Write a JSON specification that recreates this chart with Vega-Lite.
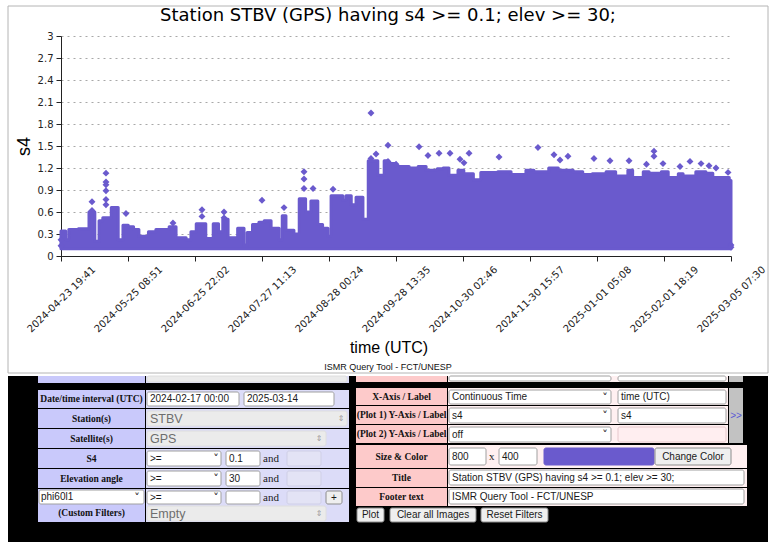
{
  "$schema": "https://vega.github.io/schema/vega-lite/v6.json",
  "background": "white",
  "padding": {"left": 7, "top": 5, "right": 0, "bottom": 0},
  "bounds": "flush",
  "spacing": 120,
  "config": {"view": {"stroke": null}, "font": "DejaVu Sans"},
  "datasets": {
    "band": [
      {"time": "2024-04-23T19:41Z", "s4": 0.34},
      {"time": "2024-04-26", "s4": 0.22},
      {"time": "2024-04-27T12:00Z", "s4": 0.36},
      {"time": "2024-05-02", "s4": 0.37},
      {"time": "2024-05-07", "s4": 0.6},
      {"time": "2024-05-09T18:00Z", "s4": 0.2},
      {"time": "2024-05-11T18:00Z", "s4": 0.48},
      {"time": "2024-05-13T12:00Z", "s4": 0.52},
      {"time": "2024-05-17T12:00Z", "s4": 0.66},
      {"time": "2024-05-20T18:00Z", "s4": 0.22},
      {"time": "2024-05-23", "s4": 0.42},
      {"time": "2024-05-25T12:00Z", "s4": 0.4},
      {"time": "2024-05-28", "s4": 0.36},
      {"time": "2024-05-30T12:00Z", "s4": 0.27},
      {"time": "2024-06-04", "s4": 0.33},
      {"time": "2024-06-07T12:00Z", "s4": 0.36},
      {"time": "2024-06-13T18:00Z", "s4": 0.4},
      {"time": "2024-06-17", "s4": 0.25},
      {"time": "2024-06-21T18:00Z", "s4": 0.22},
      {"time": "2024-06-24", "s4": 0.33},
      {"time": "2024-06-26T12:00Z", "s4": 0.44},
      {"time": "2024-07-01", "s4": 0.24},
      {"time": "2024-07-04T12:00Z", "s4": 0.44},
      {"time": "2024-07-07", "s4": 0.33},
      {"time": "2024-07-09", "s4": 0.5},
      {"time": "2024-07-11T12:00Z", "s4": 0.25},
      {"time": "2024-07-16", "s4": 0.38},
      {"time": "2024-07-19", "s4": 0.15},
      {"time": "2024-07-20T12:00Z", "s4": 0.32},
      {"time": "2024-07-23", "s4": 0.43},
      {"time": "2024-07-26", "s4": 0.46},
      {"time": "2024-07-28T12:00Z", "s4": 0.48},
      {"time": "2024-07-31T18:00Z", "s4": 0.38},
      {"time": "2024-08-04T12:00Z", "s4": 0.22},
      {"time": "2024-08-06", "s4": 0.55},
      {"time": "2024-08-07T18:00Z", "s4": 0.35},
      {"time": "2024-08-11T12:00Z", "s4": 0.3},
      {"time": "2024-08-14", "s4": 0.78},
      {"time": "2024-08-17", "s4": 0.6},
      {"time": "2024-08-19T12:00Z", "s4": 0.75},
      {"time": "2024-08-22T18:00Z", "s4": 0.43},
      {"time": "2024-08-25", "s4": 0.38},
      {"time": "2024-08-27T12:00Z", "s4": 0.27},
      {"time": "2024-08-29", "s4": 0.82},
      {"time": "2024-09-03T12:00Z", "s4": 0.76},
      {"time": "2024-09-05", "s4": 0.82},
      {"time": "2024-09-07T12:00Z", "s4": 0.7},
      {"time": "2024-09-09T18:00Z", "s4": 0.8},
      {"time": "2024-09-13", "s4": 0.5},
      {"time": "2024-09-15T12:00Z", "s4": 1.3},
      {"time": "2024-09-20", "s4": 1.1},
      {"time": "2024-09-23", "s4": 1.3},
      {"time": "2024-09-25", "s4": 1.26},
      {"time": "2024-09-28T12:00Z", "s4": 1.22},
      {"time": "2024-10-04T18:00Z", "s4": 1.2},
      {"time": "2024-10-09", "s4": 1.22},
      {"time": "2024-10-12T18:00Z", "s4": 1.17},
      {"time": "2024-10-18", "s4": 1.19},
      {"time": "2024-10-20T18:00Z", "s4": 1.2},
      {"time": "2024-10-23T12:00Z", "s4": 1.1},
      {"time": "2024-10-27T18:00Z", "s4": 1.17},
      {"time": "2024-10-30T12:00Z", "s4": 1.12},
      {"time": "2024-11-04", "s4": 1.04},
      {"time": "2024-11-07T12:00Z", "s4": 1.14},
      {"time": "2024-11-15T12:00Z", "s4": 1.15},
      {"time": "2024-11-21T18:00Z", "s4": 1.11},
      {"time": "2024-11-28T18:00Z", "s4": 1.17},
      {"time": "2024-12-02T12:00Z", "s4": 1.15},
      {"time": "2024-12-09T12:00Z", "s4": 1.2},
      {"time": "2024-12-14", "s4": 1.17},
      {"time": "2024-12-21", "s4": 1.15},
      {"time": "2024-12-25T12:00Z", "s4": 1.11},
      {"time": "2024-12-30", "s4": 1.12},
      {"time": "2025-01-05T12:00Z", "s4": 1.15},
      {"time": "2025-01-10", "s4": 1.09},
      {"time": "2025-01-15T18:00Z", "s4": 1.17},
      {"time": "2025-01-18", "s4": 1.07},
      {"time": "2025-01-23", "s4": 1.15},
      {"time": "2025-01-25T18:00Z", "s4": 1.13},
      {"time": "2025-01-31T12:00Z", "s4": 1.15},
      {"time": "2025-02-03T18:00Z", "s4": 1.07},
      {"time": "2025-02-08T12:00Z", "s4": 1.12},
      {"time": "2025-02-10T18:00Z", "s4": 1.09},
      {"time": "2025-02-16T18:00Z", "s4": 1.15},
      {"time": "2025-02-21T12:00Z", "s4": 1.13},
      {"time": "2025-02-24T18:00Z", "s4": 1.07},
      {"time": "2025-03-04T12:00Z", "s4": 1.03},
      {"time": "2025-03-05T07:30Z", "s4": 1.03}
    ],
    "peaks": [
      {"time": "2024-04-23T19:41Z", "s4": 0.22},
      {"time": "2024-04-23T19:41Z", "s4": 0.14},
      {"time": "2024-05-08T10:00Z", "s4": 0.74},
      {"time": "2024-05-08T10:00Z", "s4": 0.62},
      {"time": "2024-05-15", "s4": 1.13},
      {"time": "2024-05-15", "s4": 1.01},
      {"time": "2024-05-15", "s4": 0.97},
      {"time": "2024-05-15", "s4": 0.89},
      {"time": "2024-05-15", "s4": 0.77},
      {"time": "2024-05-15", "s4": 0.7},
      {"time": "2024-05-24T10:00Z", "s4": 0.58},
      {"time": "2024-06-15T13:00Z", "s4": 0.45},
      {"time": "2024-06-29T05:00Z", "s4": 0.63},
      {"time": "2024-06-29T05:00Z", "s4": 0.54},
      {"time": "2024-07-09T14:00Z", "s4": 0.6},
      {"time": "2024-07-09T14:00Z", "s4": 0.52},
      {"time": "2024-07-27T11:00Z", "s4": 0.76},
      {"time": "2024-08-06T20:00Z", "s4": 0.66},
      {"time": "2024-08-16T06:00Z", "s4": 1.15},
      {"time": "2024-08-16T06:00Z", "s4": 1.05},
      {"time": "2024-08-16T06:00Z", "s4": 0.92},
      {"time": "2024-08-20T12:00Z", "s4": 0.92},
      {"time": "2024-08-29T22:00Z", "s4": 0.91},
      {"time": "2024-09-16T19:00Z", "s4": 1.95},
      {"time": "2024-09-16T19:00Z", "s4": 1.33},
      {"time": "2024-09-19T04:00Z", "s4": 1.39},
      {"time": "2024-09-24T19:00Z", "s4": 1.51},
      {"time": "2024-09-24T19:00Z", "s4": 1.29},
      {"time": "2024-09-28T14:00Z", "s4": 1.25},
      {"time": "2024-10-09T10:00Z", "s4": 1.49},
      {"time": "2024-10-13T15:00Z", "s4": 1.37},
      {"time": "2024-10-18T20:00Z", "s4": 1.4},
      {"time": "2024-10-24", "s4": 1.4},
      {"time": "2024-10-28T17:00Z", "s4": 1.32},
      {"time": "2024-10-30T14:00Z", "s4": 1.27},
      {"time": "2024-11-01T23:00Z", "s4": 1.4},
      {"time": "2024-11-16T02:00Z", "s4": 1.35},
      {"time": "2024-12-04T10:00Z", "s4": 1.48},
      {"time": "2024-12-11T23:00Z", "s4": 1.38},
      {"time": "2024-12-14T19:00Z", "s4": 1.31},
      {"time": "2024-12-18T13:00Z", "s4": 1.36},
      {"time": "2024-12-30T19:00Z", "s4": 1.33},
      {"time": "2025-01-07T08:00Z", "s4": 1.3},
      {"time": "2025-01-16T07:00Z", "s4": 1.3},
      {"time": "2025-01-24T12:00Z", "s4": 1.25},
      {"time": "2025-01-28T01:00Z", "s4": 1.43},
      {"time": "2025-01-28T01:00Z", "s4": 1.36},
      {"time": "2025-02-01T07:00Z", "s4": 1.26},
      {"time": "2025-02-09T07:00Z", "s4": 1.22},
      {"time": "2025-02-14", "s4": 1.29},
      {"time": "2025-02-19T05:00Z", "s4": 1.26},
      {"time": "2025-02-22T23:00Z", "s4": 1.23},
      {"time": "2025-02-26T06:00Z", "s4": 1.2},
      {"time": "2025-03-03T22:00Z", "s4": 1.14},
      {"time": "2025-03-05T07:30Z", "s4": 0.15},
      {"time": "2025-03-05T07:30Z", "s4": 0.12}
    ],
    "cells": [
      {"kind": "panel", "x0": 7, "x1": 767, "y0": 375, "y1": 541},
      {"kind": "lab", "x0": 37, "x1": 144, "y0": 375, "y1": 382},
      {"kind": "val", "x0": 145, "x1": 348, "y0": 375, "y1": 382},
      {"kind": "lab", "x0": 37, "x1": 144, "y0": 389, "y1": 407},
      {"kind": "val", "x0": 145, "x1": 348, "y0": 389, "y1": 407},
      {"kind": "lab", "x0": 37, "x1": 144, "y0": 408, "y1": 427},
      {"kind": "val", "x0": 145, "x1": 348, "y0": 408, "y1": 427},
      {"kind": "lab", "x0": 37, "x1": 144, "y0": 428, "y1": 447},
      {"kind": "val", "x0": 145, "x1": 348, "y0": 428, "y1": 447},
      {"kind": "lab", "x0": 37, "x1": 144, "y0": 448, "y1": 467},
      {"kind": "val", "x0": 145, "x1": 348, "y0": 448, "y1": 467},
      {"kind": "lab", "x0": 37, "x1": 144, "y0": 468, "y1": 487},
      {"kind": "val", "x0": 145, "x1": 348, "y0": 468, "y1": 487},
      {"kind": "lab", "x0": 37, "x1": 144, "y0": 488, "y1": 521},
      {"kind": "val", "x0": 145, "x1": 348, "y0": 488, "y1": 521},
      {"kind": "plab", "x0": 355, "x1": 446, "y0": 375, "y1": 381},
      {"kind": "pval", "x0": 447, "x1": 727, "y0": 375, "y1": 381},
      {"kind": "side", "x0": 728, "x1": 742, "y0": 375, "y1": 381},
      {"kind": "plab", "x0": 355, "x1": 446, "y0": 387, "y1": 404},
      {"kind": "pval", "x0": 447, "x1": 727, "y0": 387, "y1": 404},
      {"kind": "plab", "x0": 355, "x1": 446, "y0": 405, "y1": 423},
      {"kind": "pval", "x0": 447, "x1": 727, "y0": 405, "y1": 423},
      {"kind": "plab", "x0": 355, "x1": 446, "y0": 424, "y1": 442},
      {"kind": "pval", "x0": 447, "x1": 727, "y0": 424, "y1": 442},
      {"kind": "side", "x0": 728, "x1": 742, "y0": 387, "y1": 442},
      {"kind": "plab", "x0": 355, "x1": 446, "y0": 444, "y1": 467},
      {"kind": "pval", "x0": 447, "x1": 746, "y0": 444, "y1": 467},
      {"kind": "plab", "x0": 355, "x1": 446, "y0": 468, "y1": 486},
      {"kind": "pval", "x0": 447, "x1": 746, "y0": 468, "y1": 486},
      {"kind": "plab", "x0": 355, "x1": 446, "y0": 487, "y1": 505},
      {"kind": "pval", "x0": 447, "x1": 746, "y0": 487, "y1": 505}
    ],
    "widgets": [
      {"kind": "selgray", "x0": 146, "x1": 346, "y0": 375, "y1": 381},
      {"kind": "select", "x0": 448, "x1": 610, "y0": 375, "y1": 380},
      {"kind": "input", "x0": 617, "x1": 725, "y0": 375, "y1": 380},
      {"kind": "input", "x0": 146, "x1": 238, "y0": 391, "y1": 405},
      {"kind": "input", "x0": 243, "x1": 333, "y0": 391, "y1": 405},
      {"kind": "selgray", "x0": 146, "x1": 346, "y0": 410, "y1": 425},
      {"kind": "selgray", "x0": 146, "x1": 325, "y0": 430, "y1": 445},
      {"kind": "select", "x0": 146, "x1": 220, "y0": 450, "y1": 465},
      {"kind": "input", "x0": 225, "x1": 259, "y0": 450, "y1": 465},
      {"kind": "disabled", "x0": 286, "x1": 320, "y0": 450, "y1": 465},
      {"kind": "select", "x0": 146, "x1": 220, "y0": 470, "y1": 485},
      {"kind": "input", "x0": 225, "x1": 259, "y0": 470, "y1": 485},
      {"kind": "disabled", "x0": 286, "x1": 320, "y0": 470, "y1": 485},
      {"kind": "select", "x0": 38, "x1": 143, "y0": 489, "y1": 503},
      {"kind": "select", "x0": 146, "x1": 220, "y0": 490, "y1": 503},
      {"kind": "input", "x0": 225, "x1": 259, "y0": 490, "y1": 503},
      {"kind": "disabled", "x0": 286, "x1": 320, "y0": 490, "y1": 503},
      {"kind": "button", "x0": 325, "x1": 341, "y0": 490, "y1": 503},
      {"kind": "selgray", "x0": 146, "x1": 325, "y0": 505, "y1": 520},
      {"kind": "select", "x0": 448, "x1": 610, "y0": 389, "y1": 403},
      {"kind": "input", "x0": 617, "x1": 725, "y0": 389, "y1": 403},
      {"kind": "select", "x0": 448, "x1": 610, "y0": 407, "y1": 422},
      {"kind": "input", "x0": 617, "x1": 725, "y0": 407, "y1": 422},
      {"kind": "select", "x0": 448, "x1": 610, "y0": 426, "y1": 441},
      {"kind": "pinkin", "x0": 617, "x1": 725, "y0": 426, "y1": 441},
      {"kind": "input", "x0": 448, "x1": 485, "y0": 447, "y1": 464},
      {"kind": "input", "x0": 498, "x1": 536, "y0": 447, "y1": 464},
      {"kind": "swatch", "x0": 543, "x1": 653, "y0": 447, "y1": 464},
      {"kind": "button", "x0": 654, "x1": 730, "y0": 447, "y1": 464},
      {"kind": "input", "x0": 448, "x1": 743, "y0": 469, "y1": 484},
      {"kind": "input", "x0": 448, "x1": 743, "y0": 488, "y1": 503},
      {"kind": "button", "x0": 356, "x1": 383, "y0": 507, "y1": 521},
      {"kind": "button", "x0": 389, "x1": 475, "y0": 507, "y1": 521},
      {"kind": "button", "x0": 480, "x1": 547, "y0": 507, "y1": 521}
    ],
    "texts": [
      {"role": "label", "x": 90.5, "y": 398, "text": "Date/time interval (UTC)"},
      {"role": "label", "x": 90.5, "y": 417.5, "text": "Station(s)"},
      {"role": "label", "x": 90.5, "y": 437.5, "text": "Satellite(s)"},
      {"role": "label", "x": 90.5, "y": 457.5, "text": "S4"},
      {"role": "label", "x": 90.5, "y": 477.5, "text": "Elevation angle"},
      {"role": "label", "x": 90.5, "y": 512, "text": "(Custom Filters)"},
      {"role": "label", "x": 400.5, "y": 395.5, "text": "X-Axis / Label"},
      {"role": "label", "x": 400.5, "y": 414, "text": "(Plot 1) Y-Axis / Label"},
      {"role": "label", "x": 400.5, "y": 433, "text": "(Plot 2) Y-Axis / Label"},
      {"role": "label", "x": 400.5, "y": 455.5, "text": "Size & Color"},
      {"role": "label", "x": 400.5, "y": 477, "text": "Title"},
      {"role": "label", "x": 400.5, "y": 496, "text": "Footer text"},
      {"role": "field", "x": 149, "y": 398, "text": "2024-02-17 00:00"},
      {"role": "field", "x": 246, "y": 398, "text": "2025-03-14"},
      {"role": "field", "x": 149, "y": 457.5, "text": ">="},
      {"role": "field", "x": 228, "y": 457.5, "text": "0.1"},
      {"role": "field", "x": 149, "y": 477.5, "text": ">="},
      {"role": "field", "x": 228, "y": 477.5, "text": "30"},
      {"role": "field", "x": 40, "y": 496, "text": "phi60l1"},
      {"role": "field", "x": 149, "y": 496.5, "text": ">="},
      {"role": "field", "x": 451, "y": 396, "text": "Continuous Time"},
      {"role": "field", "x": 620, "y": 396, "text": "time (UTC)"},
      {"role": "field", "x": 451, "y": 414.5, "text": "s4"},
      {"role": "field", "x": 620, "y": 414.5, "text": "s4"},
      {"role": "field", "x": 451, "y": 433.5, "text": "off"},
      {"role": "field", "x": 451, "y": 455.5, "text": "800"},
      {"role": "field", "x": 501, "y": 455.5, "text": "400"},
      {"role": "field", "x": 451, "y": 476.5, "text": "Station STBV (GPS) having s4 >= 0.1; elev >= 30;"},
      {"role": "field", "x": 451, "y": 495.5, "text": "ISMR Query Tool - FCT/UNESP"},
      {"role": "hint", "x": 149, "y": 417.5, "text": "STBV"},
      {"role": "hint", "x": 149, "y": 437.5, "text": "GPS"},
      {"role": "hint", "x": 149, "y": 512.5, "text": "Empty"},
      {"role": "serif", "x": 262, "y": 457.5, "text": "and"},
      {"role": "serif", "x": 262, "y": 477.5, "text": "and"},
      {"role": "serif", "x": 262, "y": 496.5, "text": "and"},
      {"role": "serif", "x": 488, "y": 455.5, "text": "x"},
      {"role": "button", "x": 333, "y": 496.5, "text": "+"},
      {"role": "button", "x": 692, "y": 455.5, "text": "Change Color"},
      {"role": "button", "x": 369.5, "y": 514, "text": "Plot"},
      {"role": "button", "x": 432, "y": 514, "text": "Clear all Images"},
      {"role": "button", "x": 513.5, "y": 514, "text": "Reset Filters"},
      {"role": "chev", "x": 215, "y": 458, "text": "˅"},
      {"role": "chev", "x": 215, "y": 478, "text": "˅"},
      {"role": "chev", "x": 215, "y": 497, "text": "˅"},
      {"role": "chev", "x": 136, "y": 496.5, "text": "˅"},
      {"role": "chev", "x": 604, "y": 396.5, "text": "˅"},
      {"role": "chev", "x": 604, "y": 415, "text": "˅"},
      {"role": "chev", "x": 604, "y": 434, "text": "˅"},
      {"role": "updown", "x": 340, "y": 417.5, "text": "⇕"},
      {"role": "updown", "x": 318, "y": 437.5, "text": "⇕"},
      {"role": "updown", "x": 318, "y": 512.5, "text": "⇕"},
      {"role": "link", "x": 735, "y": 414.5, "text": ">>"},
      {"role": "footer", "x": 387, "y": 366, "text": "ISMR Query Tool - FCT/UNESP"}
    ]
  },
  "vconcat": [
    {
      "width": 670,
      "height": 220,
      "title": {
        "text": "Station STBV (GPS) having s4 >= 0.1; elev >= 30;",
        "font": "DejaVu Sans",
        "fontSize": 18,
        "fontWeight": "normal",
        "color": "#000000",
        "anchor": "middle",
        "frame": "group",
        "dx": -8,
        "offset": 6
      },
      "layer": [
        {
          "data": {"name": "band"},
          "mark": {"type": "area", "interpolate": "step-after", "color": "#6a5acd", "stroke": "#6a5acd", "strokeWidth": 3, "strokeJoin": "round"},
          "encoding": {
            "x": {
              "field": "time",
              "type": "temporal",
              "title": "time (UTC)",
              "scale": {
                "type": "utc",
                "nice": false,
                "domain": [
                  {"year": 2024, "month": 4, "date": 23, "hours": 19, "minutes": 41, "utc": true},
                  {"year": 2025, "month": 3, "date": 5, "hours": 7, "minutes": 30, "utc": true}
                ]
              },
              "axis": {
                "values": [
                  {"year": 2024, "month": 4, "date": 23, "hours": 19, "minutes": 41, "utc": true},
                  {"year": 2024, "month": 5, "date": 25, "hours": 8, "minutes": 51, "utc": true},
                  {"year": 2024, "month": 6, "date": 25, "hours": 22, "minutes": 2, "utc": true},
                  {"year": 2024, "month": 7, "date": 27, "hours": 11, "minutes": 13, "utc": true},
                  {"year": 2024, "month": 8, "date": 28, "hours": 0, "minutes": 24, "utc": true},
                  {"year": 2024, "month": 9, "date": 28, "hours": 13, "minutes": 35, "utc": true},
                  {"year": 2024, "month": 10, "date": 30, "hours": 2, "minutes": 46, "utc": true},
                  {"year": 2024, "month": 11, "date": 30, "hours": 15, "minutes": 57, "utc": true},
                  {"year": 2025, "month": 1, "date": 1, "hours": 5, "minutes": 8, "utc": true},
                  {"year": 2025, "month": 2, "date": 1, "hours": 18, "minutes": 19, "utc": true},
                  {"year": 2025, "month": 3, "date": 5, "hours": 7, "minutes": 30, "utc": true}
                ],
                "tickCount": 11,
                "format": "%Y-%m-%d %H:%M",
                "grid": false,
                "labelAngle": -44,
                "labelAlign": "center",
                "labelBaseline": "middle",
                "labelPadding": 38,
                "labelFont": "DejaVu Sans",
                "labelFontSize": 10,
                "labelColor": "#222222",
                "labelOverlap": false,
                "labelFlush": false,
                "tickSize": 5,
                "tickColor": "#222222",
                "domainColor": "#222222",
                "titleFont": "Liberation Sans",
                "titleFontSize": 16,
                "titleFontWeight": "normal",
                "titleColor": "#000000",
                "titleAlign": "center",
                "titleBaseline": "middle",
                "titleX": 327.5,
                "titleY": 91
              }
            },
            "y": {
              "field": "s4",
              "type": "quantitative",
              "title": "s4",
              "scale": {"domain": [0, 3], "nice": false},
              "axis": {
                "values": [0, 0.3, 0.6, 0.9, 1.2, 1.5, 1.8, 2.1, 2.4, 2.7, 3],
                "tickCount": 11,
                "format": "~g",
                "labelOverlap": false,
                "grid": true,
                "gridColor": "#a8a8a8",
                "gridDash": [2, 4],
                "gridWidth": 1,
                "tickSize": 5,
                "tickColor": "#222222",
                "domainColor": "#222222",
                "labelFont": "DejaVu Sans",
                "labelFontSize": 10,
                "labelColor": "#222222",
                "labelPadding": 3,
                "titleFont": "Liberation Sans",
                "titleFontSize": 18,
                "titleFontWeight": "normal",
                "titleColor": "#000000",
                "titleAlign": "center",
                "titleBaseline": "middle",
                "titleX": -37,
                "titleY": 110
              }
            },
            "y2": {"datum": 0.1}
          }
        },
        {
          "data": {"name": "peaks"},
          "mark": {"type": "point", "shape": "diamond", "filled": true, "size": 48, "color": "#6a5acd", "opacity": 1},
          "encoding": {
            "x": {"field": "time", "type": "temporal"},
            "y": {"field": "s4", "type": "quantitative"}
          }
        },
        {
          "mark": {"type": "rule", "color": "#222222", "strokeWidth": 1},
          "encoding": {
            "x": {"datum": {"year": 2025, "month": 3, "date": 5, "hours": 7, "minutes": 30, "utc": true}, "type": "temporal"}
          }
        }
      ]
    },
    {
      "width": 707,
      "height": 166,
      "layer": [
        {
          "data": {"name": "cells"},
          "mark": {"type": "rect"},
          "encoding": {
            "x": {"field": "x0", "type": "quantitative", "scale": {"domain": [60, 767], "nice": false, "zero": false}, "axis": null},
            "x2": {"field": "x1"},
            "y": {"field": "y0", "type": "quantitative", "scale": {"domain": [375, 541], "nice": false, "zero": false, "reverse": true}, "axis": null},
            "y2": {"field": "y1"},
            "fill": {
              "field": "kind",
              "type": "nominal",
              "legend": null,
              "scale": {
                "domain": ["panel", "lab", "val", "plab", "pval", "side", "input", "select", "selgray", "disabled", "button", "swatch", "pinkin"],
                "range": ["#000000", "#c9c9fb", "#dcdcf8", "#fdcaca", "#fff0f1", "#c2c2c2", "#ffffff", "#ffffff", "#ebebeb", "#e3e3f5", "#efefef", "#6a5acd", "#ffeef0"]
              }
            }
          }
        },
        {
          "data": {"name": "widgets"},
          "mark": {"type": "rect", "cornerRadius": 2, "strokeWidth": 1},
          "encoding": {
            "x": {"field": "x0", "type": "quantitative", "scale": {"domain": [60, 767], "nice": false, "zero": false}, "axis": null},
            "x2": {"field": "x1"},
            "y": {"field": "y0", "type": "quantitative", "scale": {"domain": [375, 541], "nice": false, "zero": false, "reverse": true}, "axis": null},
            "y2": {"field": "y1"},
            "fill": {
              "field": "kind",
              "type": "nominal",
              "legend": null,
              "scale": {
                "domain": ["panel", "lab", "val", "plab", "pval", "side", "input", "select", "selgray", "disabled", "button", "swatch", "pinkin"],
                "range": ["#000000", "#c9c9fb", "#dcdcf8", "#fdcaca", "#fff0f1", "#c2c2c2", "#ffffff", "#ffffff", "#ebebeb", "#e3e3f5", "#efefef", "#6a5acd", "#ffeef0"]
              }
            },
            "stroke": {
              "field": "kind",
              "type": "nominal",
              "legend": null,
              "scale": {
                "domain": ["input", "select", "selgray", "disabled", "button", "swatch", "pinkin"],
                "range": ["#a0a0a0", "#a0a0a0", "#dedede", "#cfcfe6", "#8c8c8c", "#6a5acd", "#e6c8cc"]
              }
            }
          }
        },
        {
          "data": {"values": [{"x0": 7, "x1": 767, "y0": 5, "y1": 372}]},
          "mark": {"type": "rect", "fill": null, "stroke": "#b4b4b4", "strokeWidth": 1},
          "encoding": {
            "x": {"field": "x0", "type": "quantitative", "scale": {"domain": [60, 767], "nice": false, "zero": false}, "axis": null},
            "x2": {"field": "x1"},
            "y": {"field": "y0", "type": "quantitative", "scale": {"domain": [375, 541], "nice": false, "zero": false, "reverse": true}, "axis": null},
            "y2": {"field": "y1"}
          }
        },
        {
          "data": {"name": "texts"},
          "transform": [{"filter": "datum.role === 'label'"}],
          "mark": {"type": "text", "font": "Liberation Serif", "fontWeight": "bold", "fontSize": 9.5, "align": "center", "baseline": "middle", "color": "#111111"},
          "encoding": {
            "x": {"field": "x", "type": "quantitative", "scale": {"domain": [60, 767], "nice": false, "zero": false}, "axis": null},
            "y": {"field": "y", "type": "quantitative", "scale": {"domain": [375, 541], "nice": false, "zero": false, "reverse": true}, "axis": null},
            "text": {"field": "text"}
          }
        },
        {
          "data": {"name": "texts"},
          "transform": [{"filter": "datum.role === 'field'"}],
          "mark": {"type": "text", "font": "Liberation Sans", "fontSize": 10, "align": "left", "baseline": "middle", "color": "#1a1a1a"},
          "encoding": {
            "x": {"field": "x", "type": "quantitative", "scale": {"domain": [60, 767], "nice": false, "zero": false}, "axis": null},
            "y": {"field": "y", "type": "quantitative", "scale": {"domain": [375, 541], "nice": false, "zero": false, "reverse": true}, "axis": null},
            "text": {"field": "text"}
          }
        },
        {
          "data": {"name": "texts"},
          "transform": [{"filter": "datum.role === 'hint'"}],
          "mark": {"type": "text", "font": "Liberation Sans", "fontSize": 12.5, "align": "left", "baseline": "middle", "color": "#6e6e6e"},
          "encoding": {
            "x": {"field": "x", "type": "quantitative", "scale": {"domain": [60, 767], "nice": false, "zero": false}, "axis": null},
            "y": {"field": "y", "type": "quantitative", "scale": {"domain": [375, 541], "nice": false, "zero": false, "reverse": true}, "axis": null},
            "text": {"field": "text"}
          }
        },
        {
          "data": {"name": "texts"},
          "transform": [{"filter": "datum.role === 'serif'"}],
          "mark": {"type": "text", "font": "Liberation Serif", "fontSize": 11, "align": "left", "baseline": "middle", "color": "#1a1a1a"},
          "encoding": {
            "x": {"field": "x", "type": "quantitative", "scale": {"domain": [60, 767], "nice": false, "zero": false}, "axis": null},
            "y": {"field": "y", "type": "quantitative", "scale": {"domain": [375, 541], "nice": false, "zero": false, "reverse": true}, "axis": null},
            "text": {"field": "text"}
          }
        },
        {
          "data": {"name": "texts"},
          "transform": [{"filter": "datum.role === 'button'"}],
          "mark": {"type": "text", "font": "Liberation Sans", "fontSize": 10, "align": "center", "baseline": "middle", "color": "#1a1a1a"},
          "encoding": {
            "x": {"field": "x", "type": "quantitative", "scale": {"domain": [60, 767], "nice": false, "zero": false}, "axis": null},
            "y": {"field": "y", "type": "quantitative", "scale": {"domain": [375, 541], "nice": false, "zero": false, "reverse": true}, "axis": null},
            "text": {"field": "text"}
          }
        },
        {
          "data": {"name": "texts"},
          "transform": [{"filter": "datum.role === 'chev'"}],
          "mark": {"type": "text", "font": "DejaVu Sans", "fontWeight": "bold", "fontSize": 11, "align": "center", "baseline": "middle", "color": "#333333"},
          "encoding": {
            "x": {"field": "x", "type": "quantitative", "scale": {"domain": [60, 767], "nice": false, "zero": false}, "axis": null},
            "y": {"field": "y", "type": "quantitative", "scale": {"domain": [375, 541], "nice": false, "zero": false, "reverse": true}, "axis": null},
            "text": {"field": "text"}
          }
        },
        {
          "data": {"name": "texts"},
          "transform": [{"filter": "datum.role === 'updown'"}],
          "mark": {"type": "text", "font": "DejaVu Sans", "fontSize": 8, "align": "center", "baseline": "middle", "color": "#9a9a9a"},
          "encoding": {
            "x": {"field": "x", "type": "quantitative", "scale": {"domain": [60, 767], "nice": false, "zero": false}, "axis": null},
            "y": {"field": "y", "type": "quantitative", "scale": {"domain": [375, 541], "nice": false, "zero": false, "reverse": true}, "axis": null},
            "text": {"field": "text"}
          }
        },
        {
          "data": {"name": "texts"},
          "transform": [{"filter": "datum.role === 'link'"}],
          "mark": {"type": "text", "font": "Liberation Sans", "fontSize": 10, "align": "center", "baseline": "middle", "color": "#5b5bd6"},
          "encoding": {
            "x": {"field": "x", "type": "quantitative", "scale": {"domain": [60, 767], "nice": false, "zero": false}, "axis": null},
            "y": {"field": "y", "type": "quantitative", "scale": {"domain": [375, 541], "nice": false, "zero": false, "reverse": true}, "axis": null},
            "text": {"field": "text"}
          }
        },
        {
          "data": {"name": "texts"},
          "transform": [{"filter": "datum.role === 'footer'"}],
          "mark": {"type": "text", "font": "Liberation Sans", "fontSize": 9, "align": "center", "baseline": "middle", "color": "#111111"},
          "encoding": {
            "x": {"field": "x", "type": "quantitative", "scale": {"domain": [60, 767], "nice": false, "zero": false}, "axis": null},
            "y": {"field": "y", "type": "quantitative", "scale": {"domain": [375, 541], "nice": false, "zero": false, "reverse": true}, "axis": null},
            "text": {"field": "text"}
          }
        }
      ]
    }
  ]
}
